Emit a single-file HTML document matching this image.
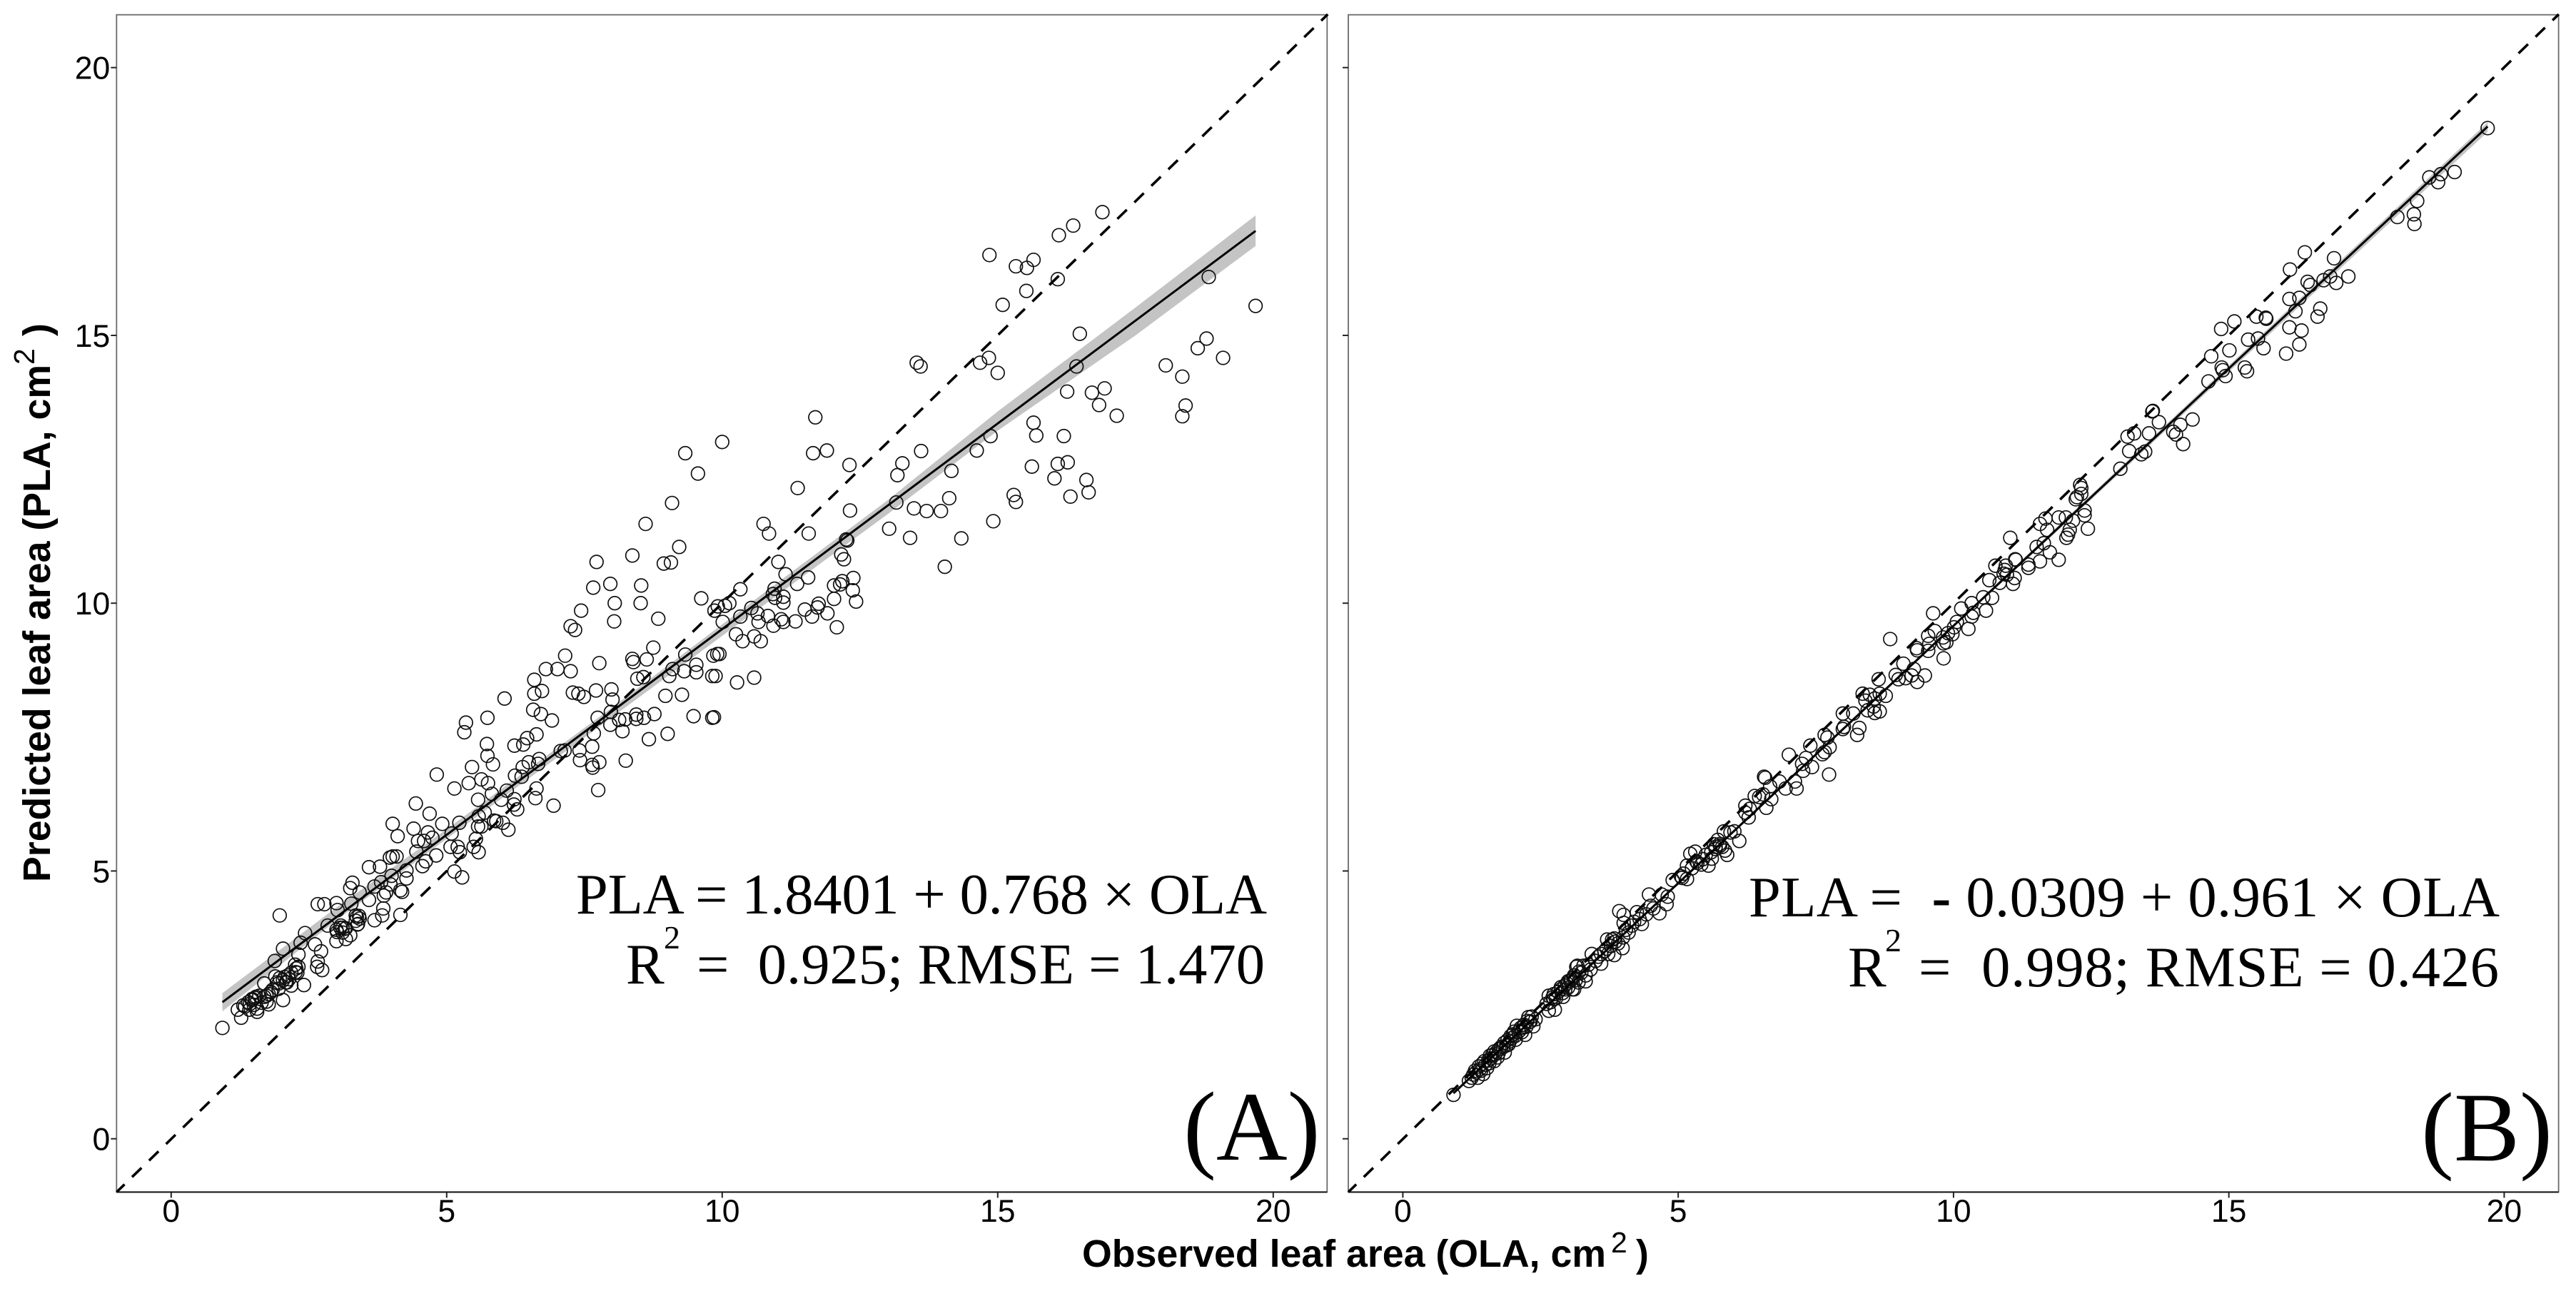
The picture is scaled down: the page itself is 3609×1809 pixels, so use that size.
<!DOCTYPE html>
<html lang="en">
<head>
<meta charset="utf-8">
<title>Observed vs predicted leaf area</title>
<style>
html,body{margin:0;padding:0;background:#fff;}
svg{display:block;}
text{font-family:"Liberation Sans",sans-serif;fill:#000;white-space:pre;}
.serif{font-family:"Liberation Serif",serif;}
.tick{font-size:44.5px;}
.title{font-size:53.7px;font-weight:bold;}
.sup{font-size:41px;}
.eq{font-size:80.5px;}
.eqsup{font-size:46px;}
.tag{font-size:138px;}
</style>
</head>
<body>
<svg id="chart" width="3609" height="1809" viewBox="0 0 3609 1809">
  <rect x="0" y="0" width="3609" height="1809" fill="#ffffff"/>
  <g id="panelA"></g>
  <g id="panelB"></g>

  <text class="serif eq" x="1775" y="1280" text-anchor="end" textLength="968">PLA = 1.8401 + 0.768 × OLA</text>
  <text class="serif eq" x="877" y="1378">R</text>
  <text class="serif eqsup" x="930" y="1329">2</text>
  <text class="serif eq" x="1772" y="1378" text-anchor="end" textLength="796">=  0.925; RMSE = 1.470</text>
  <text class="serif tag" x="1658" y="1625">(A)</text>

  <text class="serif eq" x="3502" y="1284" text-anchor="end" textLength="1052">PLA =  <tspan font-weight="bold">-</tspan> 0.0309 + 0.961 × OLA</text>
  <text class="serif eq" x="2589" y="1382">R</text>
  <text class="serif eqsup" x="2641" y="1333">2</text>
  <text class="serif eq" x="3501" y="1382" text-anchor="end" textLength="813">=  0.998; RMSE = 0.426</text>
  <text class="serif tag" x="3392" y="1626">(B)</text>

  <text class="title" x="70" y="1236" transform="rotate(-90 70 1236)">Predicted leaf area (PLA, cm</text>
  <text class="sup" x="48" y="511" transform="rotate(-90 48 511)">2</text>
  <text class="title" x="70" y="471" transform="rotate(-90 70 471)">)</text>

  <text class="title" x="1516" y="1775">Observed leaf area (OLA, cm</text>
  <text class="sup" x="2257" y="1755">2</text>
  <text class="title" x="2292" y="1775">)</text>
</svg>

<script>
const tickValues = [0, 5, 10, 15, 20];
const tickLabels = ["0", "5", "10", "15", "20"];
const identityX = [-0.99, 20.99];
const identityY = [-0.995, 20.995];

const olaA = [
16.90,16.37,16.11,14.85,15.33,15.53,15.65,16.09,15.52,15.09,
19.68,18.83,16.49,18.79,18.63,19.09,18.05,18.35,16.43,13.53,
13.60,14.68,14.84,15.00,16.26,16.71,16.94,16.84,17.16,18.41,
18.35,11.69,10.00,11.65,11.90,12.31,11.37,10.75,10.85,11.57,
12.32,12.25,12.27,13.61,13.27,13.18,14.16,14.62,14.87,15.65,
15.70,16.20,15.62,16.09,16.27,16.03,16.61,16.65,16.32,15.29,
15.33,14.92,14.12,13.97,13.71,13.48,13.16,13.03,13.41,14.34,
14.04,12.16,12.21,11.02,11.15,11.56,11.36,10.33,10.95,10.92,
10.96,11.11,11.11,12.38,12.18,12.03,12.14,12.37,12.43,12.03,
11.75,11.73,11.50,11.63,11.91,12.08,11.33,11.11,11.07,10.93,
10.83,10.66,10.64,10.53,10.33,10.01,10.13,10.05,9.92,10.25,
10.37,10.58,10.70,9.91,9.95,9.88,10.27,10.58,9.85,9.33,
9.56,9.09,8.61,9.22,8.37,7.72,8.94,9.07,7.97,7.66,
8.53,8.52,8.05,9.62,7.44,8.04,8.84,7.25,7.33,9.86,
7.15,7.77,6.80,7.01,7.25,8.37,8.39,8.63,8.75,6.59,
6.73,6.59,7.29,7.39,7.49,7.71,7.99,8.01,8.46,8.57,
6.05,8.97,9.27,9.04,9.10,9.33,9.31,9.53,9.53,9.84,
9.82,9.48,9.82,8.77,6.57,6.71,6.91,5.74,5.35,5.32,
7.98,7.74,7.97,8.13,8.19,8.24,8.44,8.44,8.58,8.67,
9.01,7.67,7.64,7.41,7.42,7.64,7.65,7.77,8.25,7.75,
7.07,7.14,6.63,6.46,6.39,6.23,5.73,5.74,5.84,5.46,
5.40,4.82,5.14,5.63,5.75,6.38,6.68,6.49,6.66,6.24,
6.36,5.82,6.09,6.63,6.61,6.94,6.23,6.22,6.28,5.57,
5.99,5.69,5.23,5.58,5.63,5.57,5.86,5.90,6.02,6.12,
4.44,4.69,4.92,4.02,4.40,4.11,4.66,4.48,4.59,4.74,
5.09,5.07,5.20,5.24,5.49,5.53,5.58,4.81,4.45,4.62,
4.56,3.97,4.02,4.09,3.59,3.79,4.27,4.27,5.14,5.28,
4.00,3.81,3.98,3.69,4.16,4.19,3.90,3.86,3.59,3.42,
3.29,3.25,3.27,3.00,2.66,2.78,3.02,1.97,4.16,3.85,
3.83,3.69,3.35,3.42,3.38,2.84,3.11,3.17,2.43,3.01,
3.17,3.00,2.35,2.61,2.72,2.03,2.31,1.88,2.66,2.65,
2.74,2.31,2.26,1.89,2.06,2.10,2.18,2.41,1.95,1.69,
1.81,1.73,2.03,1.60,1.52,1.46,1.77,1.64,1.40,1.31,
1.21,1.42,1.56,1.27,0.93,2.14,1.50,1.95,3.08,3.25,
1.47,1.54,1.43,1.56,1.34,1.69,1.77,1.73,1.84,1.92,
1.97,2.03,2.12,2.08,2.18,2.27,2.29,2.25,3.00,3.07,
3.11,3.15,3.37,3.35,3.39,3.41
];
const plaA = [
17.30,17.05,16.87,16.50,16.29,16.26,16.41,16.05,15.83,15.57,
15.55,16.09,15.03,14.94,14.76,14.58,14.44,14.23,14.42,14.49,
14.42,14.49,14.58,14.30,13.95,13.93,14.01,13.70,13.50,13.69,
13.49,13.47,13.01,12.80,12.85,12.58,12.15,11.48,11.30,11.30,
11.73,11.19,11.17,12.84,12.61,12.39,12.47,12.85,13.12,13.37,
13.13,13.12,12.55,12.60,12.63,12.33,12.30,12.07,11.99,12.02,
11.89,11.53,11.96,11.72,11.72,11.77,11.88,11.39,11.22,11.21,
10.68,10.91,10.82,10.77,10.54,10.48,10.36,10.26,10.27,10.17,
10.10,10.12,10.01,10.47,10.41,10.33,10.35,10.24,10.03,10.08,
9.99,9.92,9.88,9.75,9.81,9.55,9.66,9.65,9.70,9.58,
9.76,9.65,9.81,9.91,9.75,9.65,10.00,9.95,9.94,9.42,
9.29,9.38,9.29,9.05,9.05,8.64,8.52,8.61,7.87,12.80,
12.42,11.87,11.48,11.05,10.89,10.77,10.74,10.76,10.36,10.29,
10.33,10.00,10.00,10.09,9.86,9.66,9.71,9.57,9.50,9.86,
9.02,8.88,8.77,8.77,8.73,8.96,8.90,8.95,9.17,8.57,
8.36,8.31,8.33,8.31,8.25,8.37,8.39,8.20,8.59,8.62,
8.22,8.27,8.29,8.64,8.77,9.04,8.73,8.71,8.85,9.02,
8.64,7.89,7.86,7.93,8.01,7.93,7.81,7.86,7.77,7.59,
7.97,7.86,7.73,7.82,7.61,7.83,7.92,7.84,7.86,7.46,
7.56,7.57,7.32,7.25,7.07,6.98,6.93,7.03,7.06,6.51,
7.24,7.25,7.55,7.48,7.36,7.34,7.37,7.15,6.99,6.94,
6.64,6.80,6.54,6.71,6.64,6.94,7.09,7.03,7.00,6.78,
6.76,6.44,6.50,6.54,6.36,6.22,6.34,6.24,6.15,6.33,
6.33,6.09,5.90,6.02,5.83,5.83,5.94,5.93,5.90,5.77,
6.26,6.07,5.88,5.88,5.79,5.65,5.72,5.56,5.56,5.62,
5.70,5.45,5.45,5.35,5.45,5.60,5.35,5.29,5.36,5.18,
5.09,5.25,5.27,5.27,5.07,5.08,4.86,5.01,4.99,4.88,
4.91,4.79,4.75,4.71,4.64,4.61,4.60,4.54,4.46,4.60,
4.78,4.68,4.39,4.40,4.38,4.38,4.27,4.17,4.18,4.30,
4.17,4.08,4.17,4.11,4.00,3.98,3.94,3.93,3.84,3.86,
3.73,3.69,3.66,3.63,3.50,3.55,3.44,3.32,3.31,3.21,
3.15,3.21,3.11,3.03,3.02,2.92,2.86,2.87,2.90,2.90,
2.74,2.67,2.59,2.67,2.63,2.59,2.51,2.54,2.55,2.49,
2.41,2.41,2.37,2.26,2.07,2.98,2.50,2.80,3.98,3.80,
2.61,2.65,2.52,2.43,2.47,2.65,2.70,2.56,2.78,2.92,
3.00,2.96,3.05,2.92,3.10,3.18,3.10,3.25,3.90,3.94,
3.85,3.92,4.14,4.07,4.01,4.16
];
const fitXA = [0.93, 19.68];
const fitYA = [2.55, 16.95];
const ribbonXA = [0.93, 3, 5, 8, 11, 13, 15, 17.5, 19.68];
const ribbonLoA = [2.38, 4.08, 5.60, 7.87, 10.15, 11.66, 13.22, 15.00, 16.67];
const ribbonHiA = [2.72, 4.32, 5.78, 8.05, 10.38, 11.92, 13.58, 15.52, 17.24];

const olaB = [
19.70,19.10,18.85,18.64,18.80,18.42,18.06,18.36,18.37,16.38,
16.11,16.91,17.17,16.84,16.72,16.95,16.43,16.48,16.10,16.28,
16.21,16.66,16.61,15.50,15.67,15.68,15.10,14.86,16.10,16.32,
15.35,15.53,15.63,16.28,16.04,15.01,14.68,14.87,14.89,14.94,
15.29,15.33,14.63,13.61,13.62,13.73,14.34,14.12,13.99,14.04,
14.17,13.16,13.28,13.55,13.19,13.48,13.41,13.03,12.30,12.32,
12.32,12.24,12.22,12.38,12.38,12.44,11.67,11.57,11.70,11.91,
12.04,12.17,12.11,12.08,12.05,11.03,11.51,11.64,11.75,11.91,
11.57,11.12,11.13,11.36,11.36,10.76,10.95,10.93,10.91,10.97,
11.11,11.08,10.65,10.84,10.54,10.70,10.59,10.33,10.14,10.36,
10.33,9.63,10.06,10.01,10.27,9.66,9.90,9.81,9.54,8.85,
9.98,9.87,9.56,9.82,9.33,9.34,9.54,9.82,9.09,9.28,
8.95,9.48,9.24,9.00,9.34,8.64,9.13,8.35,8.77,8.66,
8.40,8.57,8.48,8.55,8.44,8.66,8.57,7.99,8.18,8.01,
7.99,8.29,8.25,7.71,7.66,7.40,7.75,7.66,7.62,7.01,
7.32,7.25,7.43,7.27,7.74,6.58,6.56,6.84,7.12,6.67,
7.15,6.95,6.39,6.47,6.54,6.69,6.60,6.22,6.30,6.22,
6.28,5.83,6.02,6.11,5.72,5.80,5.68,5.85,5.89,5.61,
5.55,5.31,5.22,5.16,5.16,4.90,5.07,5.33,5.42,5.68,
5.76,4.47,4.81,4.70,4.79,4.66,4.42,4.55,3.93,4.01,
4.25,4.34,4.01,4.16,4.10,4.00,3.71,3.84,3.80,3.91,
3.99,3.43,3.60,3.73,3.84,3.60,3.17,3.28,3.37,3.41,
3.24,3.32,3.11,3.19,3.32,3.04,2.98,3.11,2.95,2.87,
2.74,2.65,3.15,3.00,3.10,2.91,2.87,3.08,2.61,2.76,
2.65,2.74,2.28,2.41,2.37,2.07,2.18,1.96,2.22,2.05,
1.92,1.79,1.66,1.85,1.72,1.66,1.48,1.53,1.40,1.31,
1.46,1.25,1.36,1.20,0.92,1.58,1.75,2.02,2.12,2.30,
1.28,1.33,1.38,1.42,1.44,1.50,1.55,1.57,1.60,1.62,
1.68,1.70,1.74,1.78,1.82,1.84,1.88,1.90,1.94,1.98,
2.00,2.04,2.10,2.14,2.16,2.20,2.24,2.26,2.32,2.34,
2.68,2.72,2.78,2.82,2.90,2.94,3.00,3.06,3.14,3.20,
3.50,3.55,3.66,3.70,3.78,3.86,4.05,4.20,4.30,4.50,
5.05,5.10,5.25,5.35,5.45,5.50,5.60,5.65,5.75,5.95
];
const plaB = [
18.87,18.05,18.01,17.95,17.86,17.51,17.21,17.26,17.08,16.55,
16.23,16.44,16.10,16.10,16.03,15.98,16.00,15.94,15.68,15.70,
15.45,15.50,15.35,15.35,15.33,15.31,15.26,15.12,15.15,15.09,
14.92,14.94,14.76,14.83,14.66,14.72,14.61,14.40,14.35,14.24,
14.40,14.33,14.14,13.58,13.59,13.38,13.43,13.33,13.20,13.15,
12.97,13.11,13.17,13.17,12.84,12.83,12.78,12.51,12.21,12.15,
12.04,11.98,11.94,11.73,11.64,11.39,11.58,11.48,11.37,11.60,
11.60,11.54,11.37,11.28,11.22,11.22,11.05,11.12,10.95,10.81,
10.78,10.82,10.81,10.72,10.66,10.70,10.70,10.62,10.55,10.53,
10.47,10.36,10.43,10.38,10.11,10.10,9.86,10.00,9.90,9.82,
9.75,9.81,9.65,9.55,9.52,9.48,9.44,9.36,9.39,9.33,
9.42,9.27,9.24,9.25,9.16,9.12,9.11,8.97,8.87,8.77,
8.66,8.65,8.65,8.58,8.53,8.58,8.60,8.31,8.27,8.31,
8.18,8.22,8.29,8.07,8.00,7.98,7.95,7.94,7.94,7.69,
7.65,7.67,7.54,7.49,7.54,7.34,7.31,7.22,7.18,7.17,
7.11,7.00,6.94,6.87,6.80,6.74,6.76,6.67,6.67,6.58,
6.54,6.54,6.40,6.38,6.43,6.34,6.18,6.22,6.16,6.09,
6.00,5.74,5.74,5.56,5.58,5.45,5.45,5.38,5.30,5.23,
5.10,5.36,5.32,5.10,4.85,4.83,4.87,5.18,5.12,5.41,
5.47,4.56,4.52,4.56,4.38,4.21,4.19,4.30,4.25,4.18,
4.23,4.01,4.03,3.98,3.85,3.76,3.72,3.74,3.72,3.65,
3.56,3.45,3.45,3.45,3.43,3.27,3.23,3.23,3.25,3.16,
3.10,3.05,3.05,2.92,2.94,2.94,2.90,2.79,2.79,2.83,
2.70,2.67,3.21,2.94,3.01,2.65,2.79,2.79,2.52,2.41,
2.39,2.61,2.27,2.23,2.10,2.11,2.08,1.92,1.94,1.85,
1.76,1.72,1.63,1.61,1.52,1.45,1.45,1.32,1.30,1.27,
1.21,1.14,1.14,1.08,0.82,1.55,1.68,2.00,2.02,2.18,
1.20,1.24,1.35,1.27,1.40,1.38,1.46,1.41,1.50,1.56,
1.58,1.62,1.60,1.68,1.71,1.79,1.74,1.84,1.82,1.88,
1.95,1.92,2.00,2.07,1.99,2.13,2.09,2.20,2.19,2.28,
2.55,2.64,2.62,2.74,2.72,2.86,2.82,2.97,2.96,3.12,
3.32,3.40,3.50,3.55,3.60,3.68,3.90,4.05,4.10,4.35,
4.90,4.95,5.05,5.15,5.22,5.30,5.35,5.50,5.50,5.72
];
const fitXB = [0.92, 19.70];
const fitYB = [0.85, 18.90];
const ribbonXB = [0.92, 10, 19.70];
const ribbonLoB = [0.82, 9.55, 18.80];
const ribbonHiB = [0.88, 9.61, 18.98];

const NS = "http://www.w3.org/2000/svg";
const plotTop = 20.7;
const plotBottom = 1670.4;

function yScale(v) { return 1595.7 - 75.05 * v; }
function xScaleA(v) { return 239.8 + 77.2 * v; }
function xScaleB(v) { return 1965.4 + 77.15 * v; }

function make(parent, tag, attrs) {
  const el = document.createElementNS(NS, tag);
  for (const k in attrs) el.setAttribute(k, attrs[k]);
  parent.appendChild(el);
  return el;
}

function drawPanel(root, xScale, left, right, ola, pla, fitX, fitY, ribX, ribLo, ribHi, showYLabels) {
  const frame = make(root, "rect", {x: left, y: plotTop, width: right - left, height: plotBottom - plotTop, fill: "none", stroke: "#6a6a6a", "stroke-width": 1.8});
  
  

  const axis = make(root, "line", {x1: left, x2: right, y1: plotBottom, y2: plotBottom, stroke: "#111", "stroke-width": 2});
  
  

  tickValues.forEach(function (t, i) {
    const xt = make(root, "line", {x1: xScale(t), x2: xScale(t), y1: plotBottom, y2: plotBottom + 8, stroke: "#222", "stroke-width": 2});
    
    
    const xl = make(root, "text", {x: xScale(t), y: 1712, "text-anchor": "middle", "class": "tick"});
    xl.textContent = tickLabels[i];
    
    
    const yt = make(root, "line", {x1: left - 8, x2: left, y1: yScale(t), y2: yScale(t), stroke: "#222", "stroke-width": 2});
    
    
    if (showYLabels) {
      const yl = make(root, "text", {x: left - 9, y: yScale(t) + 16, "text-anchor": "end", "class": "tick"});
      yl.textContent = tickLabels[i];
      
      
    }
  });

  let d = "";
  ribX.forEach(function (v, i) { d += (i ? "L" : "M") + xScale(v) + " " + yScale(ribHi[i]); });
  for (let i = ribX.length - 1; i >= 0; i--) d += "L" + xScale(ribX[i]) + " " + yScale(ribLo[i]);
  const ribbon = make(root, "path", {d: d + "Z", fill: "#c4c4c4", stroke: "none"});
  
  

  ola.forEach(function (v, i) {
    const c = make(root, "circle", {cx: xScale(v), cy: yScale(pla[i]), r: 9.3, fill: "none", stroke: "#111", "stroke-width": 1.7});
    
    
  });

  const identity = make(root, "line", {x1: xScale(identityX[0]), y1: yScale(identityY[0]), x2: xScale(identityX[1]), y2: yScale(identityY[1]), stroke: "#000", "stroke-width": 3.6, "stroke-dasharray": "18.5 14.7", "stroke-dashoffset": 3});
  
  

  const fit = make(root, "line", {x1: xScale(fitX[0]), y1: yScale(fitY[0]), x2: xScale(fitX[1]), y2: yScale(fitY[1]), stroke: "#000", "stroke-width": 3});
  
  
}

drawPanel(document.getElementById("panelA"), xScaleA, 163.3, 1859.3, olaA, plaA, fitXA, fitYA, ribbonXA, ribbonLoA, ribbonHiA, true);
drawPanel(document.getElementById("panelB"), xScaleB, 1889, 3584.6, olaB, plaB, fitXB, fitYB, ribbonXB, ribbonLoB, ribbonHiB, false);
</script>
</body>
</html>
